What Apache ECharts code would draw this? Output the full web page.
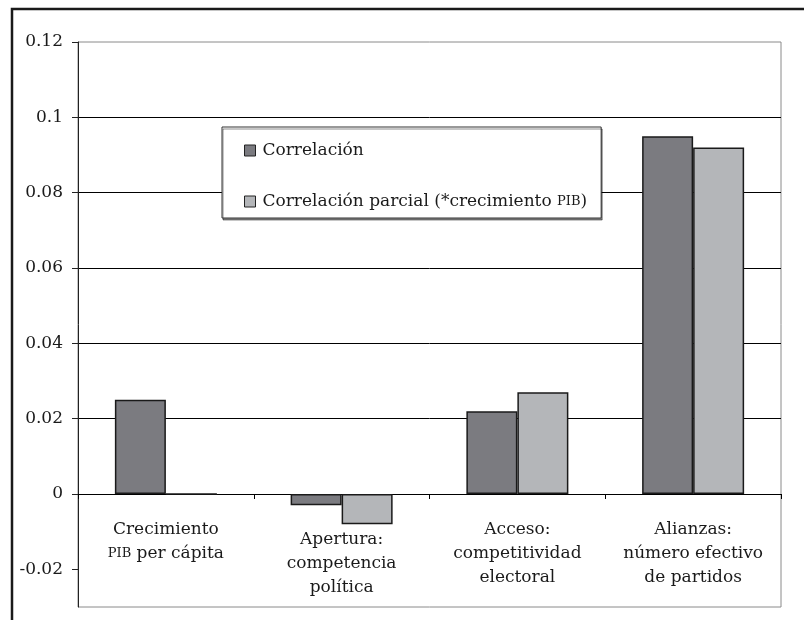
<!DOCTYPE html>
<html>
<head>
<meta charset="utf-8">
<script src="https://cdn.jsdelivr.net/npm/echarts@6/dist/echarts.min.js"></script>
<style>html,body{margin:0;padding:0;background:#fff}#c{width:804px;height:620px}</style>
</head>
<body>
<div id="c"></div>
<script>
const categories = [
  'Crecimiento\nPIB per cápita',
  'Apertura:\ncompetencia\npolítica',
  'Acceso:\ncompetitividad\nelectoral',
  'Alianzas:\nnúmero efectivo\nde partidos'
];
const seriesNames = ['Correlación', 'Correlación parcial (*crecimiento PIB)'];
const correlacion = [0.025, -0.003, 0.022, 0.095];
const correlacionParcial = [0, -0.008, 0.027, 0.092];
const yTicks = [-0.02, 0, 0.02, 0.04, 0.06, 0.08, 0.1, 0.12];
const yMin = -0.03, yMax = 0.12;

const FONT = 'DejaVu Serif';
const FS = 17;
const LABEL_GAP = 24;
const GRID = {left: 78, right: 23, top: 42, bottom: 13};
const sc = s => s.replace('PIB', '{sc|PIB}');

// grid line colour for each labelled tick (only the positive inner ones are drawn)
const gridColors = yTicks.map(v => (v > 0 && v < yMax ? '#000' : 'rgba(0,0,0,0)'));

const chart = echarts.init(document.getElementById('c'), null, {renderer: 'canvas'});
const option = {
  animation: false,
  backgroundColor: '#fff',
  textStyle: {fontFamily: FONT},
  graphic: [{
    type: 'polyline', silent: true,
    shape: {points: [[12, 620], [12, 9], [804, 9]]},
    style: {stroke: '#1a1a1a', lineWidth: 2.5, fill: null}
  }],
  grid: Object.assign({show: true, borderColor: '#8a8a8a', borderWidth: 1,
    backgroundColor: 'transparent', containLabel: false, outerBoundsMode: 'none'}, GRID),
  legend: {
    orient: 'vertical',
    left: 222, top: 127,
    padding: [15, 14, 8, 22],
    itemGap: 34,
    itemWidth: 11, itemHeight: 11,
    backgroundColor: '#fff',
    borderColor: '#333', borderWidth: 1,
    shadowColor: 'rgba(0,0,0,0.45)', shadowOffsetX: 1, shadowOffsetY: 2, shadowBlur: 0,
    icon: 'rect',
    itemStyle: {borderColor: '#222', borderWidth: 1},
    textStyle: {fontFamily: FONT, fontSize: FS, color: '#1a1a1a', padding: [0, 0, 0, 2],
      rich: {sc: {fontFamily: FONT, fontSize: 13, color: '#1a1a1a'}}},
    formatter: name => sc(name),
    data: seriesNames
  },
  xAxis: {
    type: 'category',
    data: categories,
    axisLine: {onZero: true, lineStyle: {color: '#000', width: 1}},
    axisTick: {show: true, length: 5, inside: false, lineStyle: {color: '#000'}},
    axisLabel: {
      margin: LABEL_GAP, interval: 0,
      fontFamily: FONT, fontSize: FS, color: '#1a1a1a', lineHeight: 24, align: 'center',
      formatter: (v, i) => {
        const lines = v.split('\n').map(sc);
        if (i === 1) {
          return '{gap| }\n' + lines.join('\n');
        }
        return lines.join('\n');
      },
      rich: {
        sc: {fontFamily: FONT, fontSize: 13, color: '#1a1a1a', lineHeight: 24},
        gap: {fontSize: 1, lineHeight: 10}
      }
    },
    splitLine: {show: false}
  },
  yAxis: {
    type: 'value',
    min: yMin, max: yMax, interval: 0.01,
    axisLine: {show: true, lineStyle: {color: '#222', width: 1}},
    axisTick: {show: true, length: 6, customValues: yTicks, lineStyle: {color: '#222'}},
    axisLabel: {
      customValues: yTicks,
      margin: 15,
      fontFamily: FONT, fontSize: FS, color: '#1a1a1a',
      formatter: v => String(parseFloat(v.toFixed(2)))
    },
    splitLine: {show: true, lineStyle: {color: gridColors, width: 1}}
  },
  series: [
    {
      name: seriesNames[0], type: 'bar', data: correlacion,
      barWidth: 51, barGap: '0%',
      itemStyle: {color: '#7b7b80', borderColor: '#1a1a1a', borderWidth: 1.5}
    },
    {
      name: seriesNames[1], type: 'bar', data: correlacionParcial,
      barWidth: 51, barGap: '0%',
      itemStyle: {color: '#b4b6b9', borderColor: '#1a1a1a', borderWidth: 1.5}
    }
  ]
};
chart.setOption(option);
// category labels sit under the zero line: shift them up from the grid bottom
const zeroY = chart.convertToPixel({yAxisIndex: 0}, 0);
const bottomY = chart.convertToPixel({yAxisIndex: 0}, yMin);
chart.setOption({xAxis: {axisLabel: {margin: LABEL_GAP - (bottomY - zeroY)}}});
</script>
</body>
</html>
